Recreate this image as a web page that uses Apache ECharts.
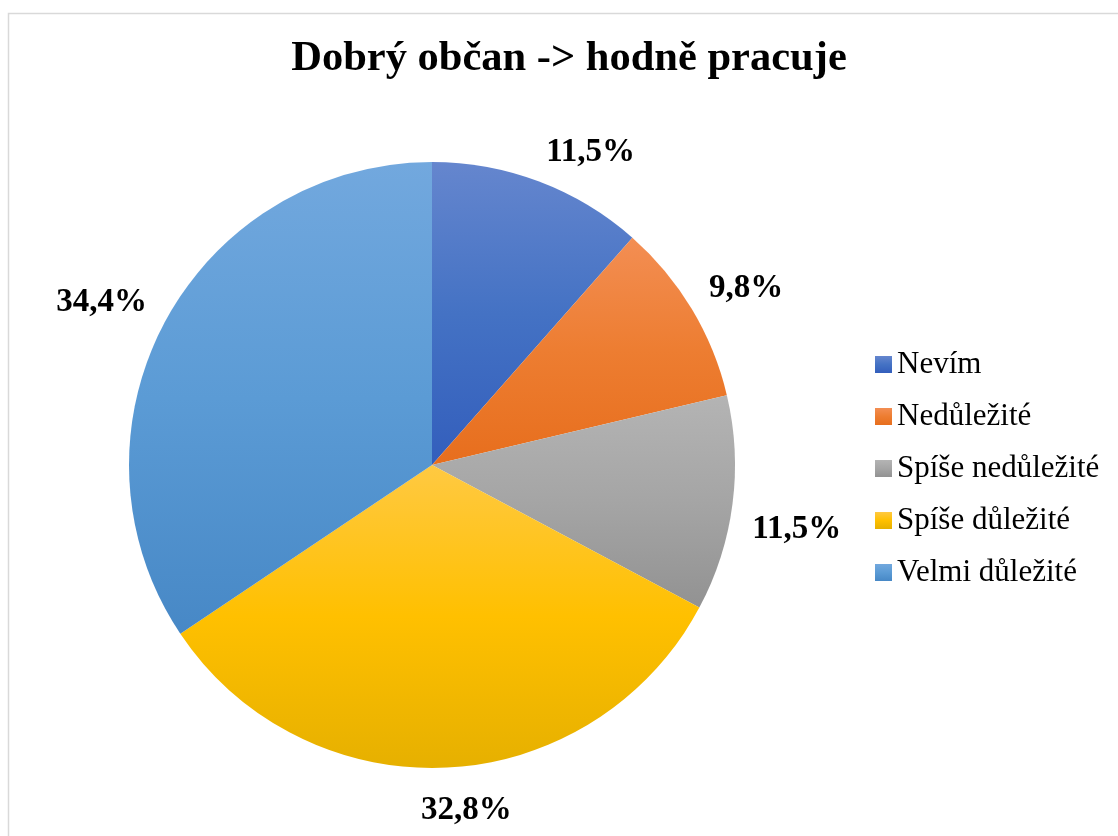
<!DOCTYPE html>
<html>
<head>
<meta charset="utf-8">
<script src="https://cdn.jsdelivr.net/npm/echarts@6/dist/echarts.min.js"></script>
<style>
  html, body { margin: 0; padding: 0; background: #ffffff; }
  #chart { width: 1118px; height: 836px; }
</style>
</head>
<body>
<div id="chart"></div>
<script>
// Survey answers: how important is "working a lot" for being a good citizen
const titleText = 'Dobrý občan -> hodně pracuje';
const categories = ['Nevím', 'Nedůležité', 'Spíše nedůležité', 'Spíše důležité', 'Velmi důležité'];
const shares = [11.5, 9.8, 11.5, 32.8, 34.4];

// Slice fills: light top, base middle, dark bottom
const palette = [
  ['#6586ce', '#4472c4', '#335ebc'],
  ['#f38e53', '#ed7d31', '#e76e1d'],
  ['#b4b4b4', '#a5a5a5', '#929292'],
  ['#ffc942', '#ffc000', '#e6b000'],
  ['#72a8de', '#5b9bd5', '#4788c6']
];

const serif = '"Liberation Serif", "Times New Roman", serif';

function fill(c) {
  return new echarts.graphic.LinearGradient(0, 0, 0, 1, [
    { offset: 0, color: c[0] },
    { offset: 0.5, color: c[1] },
    { offset: 1, color: c[2] }
  ]);
}

const chart = echarts.init(document.getElementById('chart'), null, { renderer: 'canvas' });

// distance of the label anchor beyond the rim, how quickly the label box
// swings to the anchor's side as the bisector leaves an axis, and a small
// downward text offset
const LABEL_GAP = 20;
const SIDE_GAIN = 8;
const TEXT_DROP = 6;

function clamp1(v) { return Math.max(-1, Math.min(1, v)); }

const option = {
  backgroundColor: '#ffffff',
  animation: false,
  graphic: [{
    type: 'rect',
    shape: { x: 8.5, y: 13.5, width: 1200, height: 900 },
    style: { fill: 'none', stroke: '#d9d9d9', lineWidth: 1.5 },
    silent: true,
    z: -10
  }],
  title: {
    text: titleText,
    left: 564,
    top: 33,
    textAlign: 'center',
    textStyle: {
      fontFamily: serif,
      fontWeight: 'bold',
      fontSize: 42.5,
      color: '#000000'
    }
  },
  legend: {
    orient: 'vertical',
    left: 870,
    top: 344,
    itemWidth: 17,
    itemHeight: 17,
    itemGap: 21,
    icon: 'rect',
    data: categories,
    textStyle: {
      fontFamily: serif,
      fontSize: 31,
      color: '#000000'
    }
  },
  series: [{
    type: 'pie',
    center: [432, 465],
    radius: 303,
    startAngle: 90,
    clockwise: true,
    avoidLabelOverlap: false,
    data: categories.map((name, i) => ({
      name: name,
      value: shares[i],
      itemStyle: { color: fill(palette[i]) }
    })),
    itemStyle: { borderWidth: 0 },
    label: {
      show: true,
      position: 'outside',
      formatter: p => p.value.toFixed(1).replace('.', ',') + '%',
      fontFamily: serif,
      fontWeight: 'bold',
      fontSize: 33,
      color: '#000000'
    },
    labelLine: { show: false, length: 10, length2: 0 },
    labelLayout: function (params) {
      // anchor on the slice bisector just past the rim, box hangs off the anchor
      const data = chart.getModel().getSeriesByIndex(0).getData();
      const lay = data.getItemLayout(params.dataIndex);
      const mid = (lay.startAngle + lay.endAngle) / 2;
      const cx = Math.cos(mid), cy = Math.sin(mid);
      const w = params.labelRect.width, h = params.labelRect.height;
      const ax = lay.cx + cx * (lay.r + LABEL_GAP);
      const ay = lay.cy + cy * (lay.r + LABEL_GAP);
      return {
        x: ax + clamp1(cx * SIDE_GAIN) * w / 2,
        y: ay + clamp1(cy * SIDE_GAIN) * h / 2 + TEXT_DROP,
        align: 'center',
        verticalAlign: 'middle'
      };
    },
    emphasis: { disabled: true }
  }]
};

chart.setOption(option);
</script>
</body>
</html>
